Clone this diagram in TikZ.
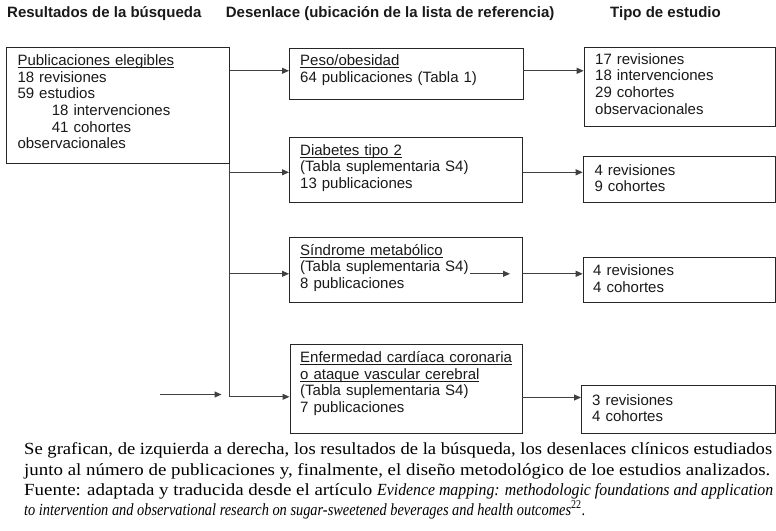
\documentclass[tikz,border=0pt]{standalone}
\usepackage{graphicx}
\usepackage{fontspec}
\setmainfont{Liberation Sans}
\newfontfamily\capfont{Liberation Serif}
\usetikzlibrary{arrows.meta}
\newsavebox\ulbox
\newcommand\ulx[1]{\leavevmode\sbox\ulbox{#1}\rlap{\rule[-2.3pt]{\wd\ulbox}{0.8pt}}\usebox\ulbox}
\begin{document}
\begin{tikzpicture}[x=1pt,y=-1pt,
  box/.style={draw=black!85, line width=0.8pt, anchor=north west, inner sep=0pt},
  txt/.style={anchor=base west, inner sep=0pt, text width=225pt, align=left,
    font=\fontsize{15}{16.6}\selectfont, text=black!90},
  hdr/.style={anchor=base west, inner sep=0pt, font=\bfseries\fontsize{15}{18}\selectfont, text=black!90},
  conn/.style={draw=black!75, line width=1pt},
  arr/.style={conn, -{Triangle[length=7pt,width=6pt]}},
  captext/.style={anchor=base west, inner sep=0pt, font=\capfont\fontsize{17}{21}\selectfont}]
\useasboundingbox (0,0) rectangle (776,530);

% headers
\node[hdr] (h1) at (7,17) {Resultados de la búsqueda};
\node[hdr] (h2) at (225.7,17) {Desenlace (ubicación de la lista de referencia)};
\node[hdr] (h3) at (610,17) {Tipo de estudio};

% boxes
\node[box, minimum width=222.7pt, minimum height=116pt] (L) at (6,47.3) {};
\node[box, minimum width=233.5pt, minimum height=50.7pt] (P) at (289,48.3) {};
\node[box, minimum width=233pt, minimum height=65pt] (D) at (289,136.7) {};
\node[box, minimum width=233pt, minimum height=65pt] (S) at (289,237.3) {};
\node[box, minimum width=232pt, minimum height=88.4pt] (E) at (289.5,344.3) {};
\node[box, minimum width=191.6pt, minimum height=79pt] (R1) at (583.7,46.7) {};
\node[box, minimum width=192.3pt, minimum height=46pt] (R2) at (582.7,155.7) {};
\node[box, minimum width=192.3pt, minimum height=45.6pt] (R3) at (582.7,256.7) {};
\node[box, minimum width=194pt, minimum height=47.7pt] (R4) at (581,385) {};

% texts
\node[txt] (Lt) at (17.3,65.7) {\ulx{Publicaciones elegibles}\\
18 revisiones\\
59 estudios\\
\hspace*{34.4pt}18 intervenciones\\
\hspace*{34.4pt}41 cohortes\\
observacionales};
\node[txt] (Pt) at (300,65.7) {\ulx{Peso/obesidad}\\64 publicaciones (Tabla 1)};
\node[txt] (Dt) at (300,155) {\ulx{Diabetes tipo 2}\\(Tabla suplementaria S4)\\13 publicaciones};
\node[txt] (St) at (300,255) {\ulx{Síndrome metabólico}\\(Tabla suplementaria S4)\\8 publicaciones};
\node[txt] (Et) at (300,362.7) {\ulx{Enfermedad cardíaca coronaria}\\\ulx{o ataque vascular cerebral}\\(Tabla suplementaria S4)\\7 publicaciones};
\node[txt] (R1t) at (595,64.3) {17 revisiones\\18 intervenciones\\29 cohortes\\observacionales};
\node[txt] (R2t) at (594.3,175) {4 revisiones\\9 cohortes};
\node[txt] (R3t) at (593,275.7) {4 revisiones\\4 cohortes};
\node[txt] (R4t) at (592,405) {3 revisiones\\4 cohortes};

% connector levels
\coordinate (y1) at (0,70.8);
\coordinate (yD) at (0,172.3);
\coordinate (yS) at (0,273.8);
\coordinate (yE) at (0,396.8);
\coordinate (yE2) at (0,397.5);

\draw[arr] (L.east |- y1) -- (P.west |- y1);
\draw[arr] (P.east |- y1) -- (R1.west |- y1);
\draw[conn] (L.south east) -- (L.south east |- yE);
\draw[arr] (L.east |- yD) -- (D.west |- yD);
\draw[arr] (L.east |- yS) -- (S.west |- yS);
\draw[arr] (L.east |- yE) -- (E.west |- yE);
\draw[arr] (D.east |- yD) -- (R2.west |- yD);
\draw[arr] (S.east |- yS) -- (R3.west |- yS);
\draw[arr] (E.east |- yE2) -- (R4.west |- yE2);

% stray arrows
\coordinate (s1) at (470,273.8);
\coordinate (s2) at (510,273.8);
\draw[arr] (s1) -- (s2);
\coordinate (t1) at (160,394.5);
\coordinate (t2) at (221.5,394.5);
\draw[arr] (t1) -- (t2);

% caption
\node[captext] (c1) at (24,454) {\resizebox{748pt}{\height}{Se grafican, de izquierda a derecha, los resultados de la búsqueda, los desenlaces clínicos estudiados}};
\node[captext] (c2) at (24,475) {\resizebox{746pt}{\height}{junto al número de publicaciones y, finalmente, el diseño metodológico de loe estudios analizados.}};
\node[captext] (c3) at (24,495) {\resizebox{348pt}{\height}{Fuente: adaptada y traducida desde el artículo}\hspace{5pt}\resizebox{396pt}{\height}{\textit{Evidence mapping: methodologic foundations and application}}};
\node[captext] (c4) at (24,515) {\resizebox{561pt}{\height}{\textit{to intervention and observational research on sugar-sweetened beverages and health outcomes}\textsuperscript{22}.}};
\end{tikzpicture}
\end{document}
